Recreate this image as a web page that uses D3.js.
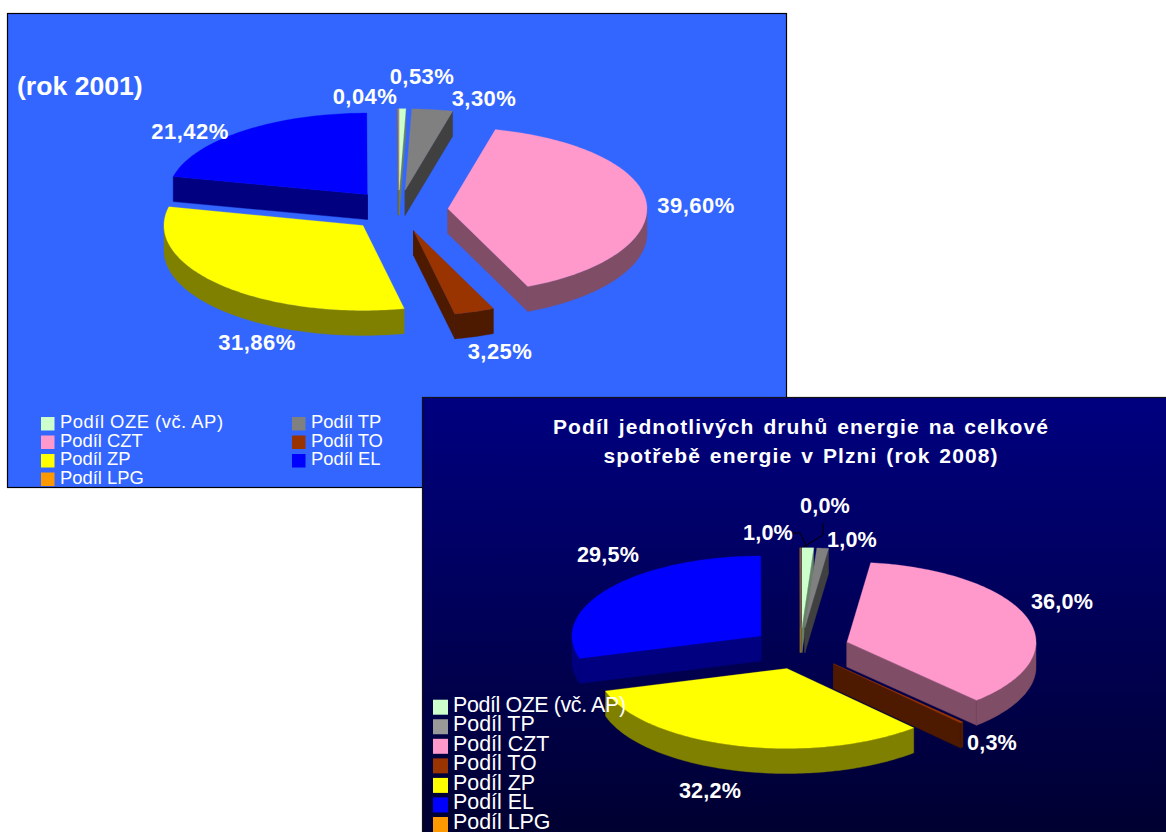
<!DOCTYPE html>
<html>
<head>
<meta charset="utf-8">
<script src="https://cdn.jsdelivr.net/npm/d3@7"></script>
<style>
html, body { margin: 0; padding: 0; background: #fff; overflow: hidden; }
svg { display: block; }
text { font-family: "Liberation Sans", Arial, sans-serif; fill: #fff; }
</style>
</head>
<body>
<svg id="chart" width="1166" height="832"></svg>
<script>
// Energy categories in the order the pies are drawn, clockwise from 12 o'clock
const categories = ["Podíl OZE (vč. AP)", "Podíl TP", "Podíl CZT", "Podíl TO", "Podíl ZP", "Podíl EL", "Podíl LPG"];
const colours = ["#CCFFCC", "#808080", "#FF99CC", "#993300", "#FFFF00", "#0000FF", "#FF9900"];

// Share of each energy source, percent
const values2001 = [0.53, 3.30, 39.60, 3.25, 31.86, 21.42, 0.04];
const values2008 = [1.0, 1.0, 36.0, 0.3, 32.2, 29.5, 0.02];

const title2001 = ["(rok 2001)"];
const title2008 = ["Podíl jednotlivých druhů energie na celkové", "spotřebě energie v Plzni (rok 2008)"];

// Label centres, one per category
const labelSpots2001 = [[422, 76], [484, 98], [696, 205], [500, 351], [257, 342], [190, 131], [365, 96]];
const labelSpots2008 = [[768, 532], [852, 539], [1062, 601], [992, 742], [710, 790], [608, 554], [825, 505]];

// Legend rows: [category index, column]
const legendOrder2001 = [[0, 0], [1, 1], [2, 0], [3, 1], [4, 0], [5, 1], [6, 0]];

const svg = d3.select("#chart");
const colour = d3.scaleOrdinal(categories, colours);
const shade = c => d3.interpolateRgb(c, "#000")(0.5);

// Gradient backdrop of the lower panel
const grad = svg.append("defs").append("linearGradient")
  .attr("id", "navy").attr("x1", 0).attr("x2", 0).attr("y1", 0).attr("y2", 1);
grad.append("stop").attr("offset", "0%").attr("stop-color", "#000080");
grad.append("stop").attr("offset", "100%").attr("stop-color", "#00002E");

// Exploded 3D pie: an ellipse-projected top face with extruded walls.
// The far half is foreshortened a little more than the near half.
function drawPie(g, values, geo) {
  const x = d3.scaleLinear().domain([-1, 1]).range([geo.cx - geo.rx, geo.cx + geo.rx]);
  const y = d3.scaleLinear().domain([-1, 0, 1]).range([geo.cy - geo.ryBack, geo.cy, geo.cy + geo.ryFront]);
  const line = d3.line();
  const slices = d3.pie().sort(null).value(d => d)(values)
    .map((s, i) => ({ ...s, i, cat: categories[i] }));

  // Walk from the back of the pie to the front
  const paintOrder = [5, 6, 0, 1, 2, 3, 4];

  paintOrder.forEach(i => {
    const s = slices[i];
    const mid = (s.startAngle + s.endAngle) / 2;
    const ox = geo.explode * Math.sin(mid), oy = -geo.explode * Math.cos(mid);
    const apex = [x(ox), y(oy)];
    const rim = a => [x(ox + Math.sin(a)), y(oy - Math.cos(a))];
    const drop = p => [p[0], p[1] + geo.depth];
    const arcAngles = (a0, a1) => {
      const n = Math.max(2, Math.ceil((a1 - a0) / 0.02));
      return d3.range(n + 1).map(k => a0 + (a1 - a0) * k / n);
    };
    const c = colour(s.cat), dark = shade(c);
    const wall = pts => g.append("path")
      .attr("d", line(pts) + "Z").attr("fill", dark)
      .attr("stroke", dark).attr("stroke-width", 0.4);

    // Radial walls that face the viewer
    const startShows = Math.sin(s.startAngle) < 0;
    const endShows = Math.sin(s.endAngle) > 1e-6;
    if (startShows) {
      const p = rim(s.startAngle);
      wall([apex, p, drop(p), drop(apex)]);
    }
    if (endShows) {
      const p = rim(s.endAngle);
      wall([apex, p, drop(p), drop(apex)]);
    }
    if (startShows || endShows) {
      g.append("line")
        .attr("x1", apex[0]).attr("y1", apex[1])
        .attr("x2", apex[0]).attr("y2", apex[1] + geo.depth)
        .attr("stroke", i === 6 ? geo.sliver : dark).attr("stroke-width", 1);
    }

    // Outer curved wall, only over the front half of the ellipse
    const a0 = Math.max(s.startAngle, Math.PI / 2), a1 = Math.min(s.endAngle, Math.PI * 1.5);
    if (a1 > a0) {
      const upper = arcAngles(a0, a1).map(rim);
      wall(upper.concat(upper.map(drop).reverse()));
    }

    // Top face
    const top = arcAngles(s.startAngle, s.endAngle).map(rim);
    g.append("path")
      .attr("d", line([apex, ...top]) + "Z")
      .attr("fill", c).attr("stroke", c).attr("stroke-width", 0.3);
  });
  return slices;
}

function drawLabels(g, slices, spots, format, size, spacing) {
  g.selectAll("text.value").data(slices).join("text")
    .attr("class", "value")
    .attr("x", (d, i) => spots[i][0])
    .attr("y", (d, i) => spots[i][1])
    .attr("dy", "0.36em")
    .attr("text-anchor", "middle")
    .attr("font-weight", "bold")
    .attr("font-size", size)
    .attr("letter-spacing", spacing)
    .text(d => format(d.value) + "%");
}

const czech = d3.formatLocale({ decimal: ",", thousands: " ", grouping: [3], currency: ["", " Kč"] });

// ---- Panel 2001 ----
const p1 = svg.append("g");
p1.append("rect").attr("x", 7.5).attr("y", 13.5).attr("width", 779).attr("height", 474)
  .attr("fill", "#3366FF").attr("stroke", "#000").attr("stroke-width", 1.2);
p1.append("text").attr("x", 17).attr("y", 95)
  .attr("font-size", 26.6).attr("font-weight", "bold").text(title2001[0]);
const s1 = drawPie(p1, values2001, { cx: 398.4, cy: 210.5, rx: 199, ryBack: 81.5, ryFront: 85, explode: 0.25, depth: 25, sliver: "#8A5A10" });
drawLabels(p1, s1, labelSpots2001, czech.format(".2f"), 22, 0.45);

const row1 = d3.scalePoint().domain(d3.range(4)).range([428, 483.5]);
const col1 = d3.scalePoint().domain([0, 1]).range([41, 292]);
const rowCount = [0, 0];
legendOrder2001.forEach(([i, col]) => {
  const r = rowCount[col]++;
  const base = row1(r);
  p1.append("rect").attr("x", col1(col)).attr("y", base - 11).attr("width", 13.5).attr("height", 13.5)
    .attr("fill", colours[i]);
  const label = p1.append("text").attr("x", col1(col) + 19).attr("y", base)
    .attr("font-size", 18.4).text(categories[i]);
  if (i === 0) label.attr("textLength", 163);
});

// ---- Panel 2008 ----
const p2 = svg.append("g");
p2.append("rect").attr("x", 422.5).attr("y", 397.5).attr("width", 760).attr("height", 450)
  .attr("fill", "url(#navy)").attr("stroke", "#111").attr("stroke-width", 1.2);
title2008.forEach((t, i) => {
  p2.append("text").attr("x", 801).attr("y", 434 + i * 29)
    .attr("text-anchor", "middle").attr("font-size", 21).attr("font-weight", "bold")
    .attr("letter-spacing", 1.1).attr("word-spacing", 2).text(t);
});

// Leader lines for the two thinnest slices
const leaderLine = d3.line();
[[[792, 533], [800, 533], [808, 549]], [[823, 523], [823, 535], [800, 549]]].forEach(pts => {
  p2.append("path").attr("d", leaderLine(pts)).attr("fill", "none")
    .attr("stroke", "#000").attr("stroke-width", 1);
});

const s2 = drawPie(p2, values2008, { cx: 800.3, cy: 648.5, rx: 189, ryBack: 80, ryFront: 80, explode: 0.26, depth: 25, sliver: "#C77700" });
drawLabels(p2, s2, labelSpots2008, czech.format(".1f"), 21.6, 0.2);

const row2 = d3.scalePoint().domain(d3.range(categories.length)).range([711.7, 829]);
categories.forEach((c, i) => {
  const base = row2(i);
  p2.append("rect").attr("x", 433).attr("y", base - 12).attr("width", 15).attr("height", 15)
    .attr("fill", colours[i] === "#808080" ? "#999999" : colours[i]);
  const label = p2.append("text").attr("x", 453).attr("y", base).attr("font-size", 21.4).text(c);
  if (i === 0) label.attr("textLength", 173);
});
</script>
</body>
</html>
